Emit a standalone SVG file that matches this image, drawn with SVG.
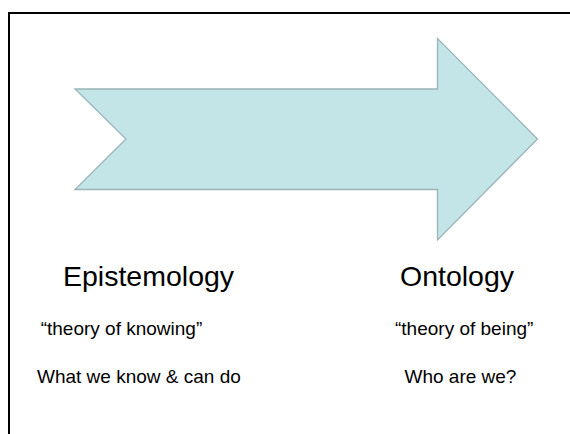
<svg xmlns="http://www.w3.org/2000/svg" width="570" height="434" viewBox="0 0 570 434">
<style>
.t{font-family:"Liberation Sans",Arial,sans-serif;fill:#000}
.h{font-size:28.5px}
.s{font-size:19px}
</style>
<rect width="570" height="434" fill="#fff"/>
<path d="M9,434 V13 H570" fill="none" stroke="#000" stroke-width="2"/>
<g id="arrow">
<polygon points="75,89 437.5,89 437.5,38.5 537.5,139 437.5,240 437.5,189.5 75,189.5 126,139" fill="#C4E5E7" stroke="#9BB4B7" stroke-width="1.3"/>
</g>
<g id="epistemology">
<text class="t h" x="63" y="286">Epistemology</text>
<text class="t s" x="40.7" y="335">“theory of knowing”</text>
<text class="t s" x="37" y="383">What we know &amp; can do</text>
</g>
<g id="ontology">
<text class="t h" x="400" y="286">Ontology</text>
<text class="t s" x="395" y="335">“theory of being”</text>
<text class="t s" x="404.5" y="383">Who are we?</text>
</g>
</svg>
